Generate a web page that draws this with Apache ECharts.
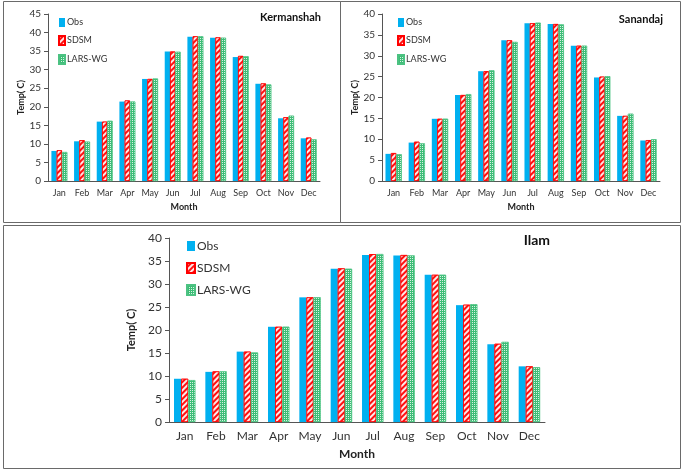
<!DOCTYPE html>
<html>
<head>
<meta charset="utf-8">
<script src="https://cdn.jsdelivr.net/npm/echarts@6/dist/echarts.min.js"></script>
<style>
  html, body { margin: 0; padding: 0; background: #fff; }
  #chart { width: 685px; height: 472px; }
</style>
</head>
<body>
<div id="chart"></div>
<script>
// monthly mean temperature, observed vs downscaled
const months = ['Jan', 'Feb', 'Mar', 'Apr', 'May', 'Jun', 'Jul', 'Aug', 'Sep', 'Oct', 'Nov', 'Dec']
const seriesNames = ['Obs', 'SDSM', 'LARS-WG']

const kermanshahObs = [8.1, 10.7, 16.0, 21.4, 27.5, 34.9, 38.9, 38.6, 33.4, 26.2, 16.9, 11.5]
const kermanshahSdsm = [8.3, 11.0, 16.0, 21.7, 27.5, 34.9, 39.0, 38.7, 33.7, 26.3, 17.2, 11.7]
const kermanshahLars = [7.8, 10.6, 16.2, 21.4, 27.6, 34.8, 39.0, 38.6, 33.6, 26.0, 17.6, 11.2]

const sanandajObs = [6.5, 9.2, 14.9, 20.6, 26.3, 33.7, 37.8, 37.6, 32.4, 24.8, 15.6, 9.7]
const sanandajSdsm = [6.7, 9.4, 14.9, 20.6, 26.3, 33.7, 37.8, 37.6, 32.4, 25.0, 15.6, 9.8]
const sanandajLars = [6.4, 9.0, 14.9, 20.8, 26.5, 33.3, 37.9, 37.5, 32.4, 25.1, 16.1, 10.0]

const ilamObs = [9.4, 10.9, 15.3, 20.7, 27.1, 33.3, 36.3, 36.2, 32.0, 25.4, 16.9, 12.1]
const ilamSdsm = [9.4, 11.0, 15.3, 20.7, 27.1, 33.4, 36.5, 36.3, 32.0, 25.5, 17.0, 12.1]
const ilamLars = [9.1, 11.0, 15.1, 20.7, 27.1, 33.3, 36.5, 36.2, 32.0, 25.6, 17.4, 11.9]

const font = 'Lato'
const axisColor = '#555'

let chart = echarts.init(document.getElementById('chart'))

function barStyle(i) {
    if (i === 0) return {color: '#00B0F0'}
    if (i === 1) return {
        color: '#FF1010', borderColor: '#FF0000', borderWidth: 0.8,
        decal: {symbol: 'rect', color: 'rgba(255,255,255,0.9)', dashArrayX: [1, 0], dashArrayY: [1.5, 2], rotation: -Math.PI / 4}
    }
    return {
        color: '#3dbd76', borderColor: '#4cc282', borderWidth: 0.6,
        decal: {symbol: 'rect', color: 'rgba(255,255,255,0.8)', symbolSize: 1, dashArrayX: [1, 1], dashArrayY: [1, 1]}
    }
}

function makeSeries(idx, data, gap) {
    return data.map((d, i) => ({
        name: seriesNames[i],
        type: 'bar',
        xAxisIndex: idx,
        yAxisIndex: idx,
        data: d,
        barGap: '0%',
        barCategoryGap: gap,
        itemStyle: barStyle(i),
        emphasis: {disabled: true}
    }))
}

function xAxis(idx, size, gap) {
    return {
        type: 'category', gridIndex: idx, data: months,
        name: 'Month', nameLocation: 'middle', nameGap: gap,
        nameTextStyle: {fontFamily: font, fontWeight: 'bold', fontSize: size, color: '#222'},
        axisLine: {lineStyle: {color: axisColor}},
        axisTick: {length: 4, lineStyle: {color: axisColor}},
        axisLabel: {fontFamily: font, fontSize: size, color: '#333', margin: 8}
    }
}

function yAxis(idx, max, size, gap) {
    return {
        type: 'value', gridIndex: idx, min: 0, max: max, interval: 5,
        name: 'Temp( C)', nameLocation: 'middle', nameGap: gap,
        nameTextStyle: {fontFamily: font, fontWeight: 'bold', fontSize: size, color: '#222'},
        axisLine: {show: true, lineStyle: {color: axisColor}},
        axisTick: {show: true, length: 4, lineStyle: {color: axisColor}},
        splitLine: {show: false},
        axisLabel: {fontFamily: font, fontSize: size + 1, color: '#333', margin: 7}
    }
}

function legend(left, top, gap, size, w, h) {
    return {
        data: seriesNames, orient: 'vertical', left: left, top: top,
        itemGap: gap, itemWidth: w, itemHeight: h, icon: 'rect',
        selectedMode: false,
        textStyle: {fontFamily: font, fontSize: size, color: '#333', padding: [0, 0, 0, -3]}
    }
}

function title(text, right, top, size) {
    return {
        text: text, right: right, top: top,
        textStyle: {fontFamily: font, fontWeight: 'bold', fontSize: size, color: '#111'}
    }
}

const option = {
    animation: false,
    backgroundColor: '#fff',
    title: [
        title('Kermanshah', 359, 7, 11),
        title('Sanandaj', 17, 9, 11),
        title('Ilam', 130, 228, 14)
    ],
    legend: [
        legend(53, 13, 8, 9, 6, 9),
        legend(392, 13, 8, 9, 6, 9),
        legend(181, 235, 10, 12, 8, 10)
    ],
    grid: [
        {left: 48, top: 14, width: 272, height: 167},
        {left: 382, top: 14, width: 278, height: 167},
        {left: 169, top: 238, width: 376, height: 184}
    ],
    xAxis: [xAxis(0, 9, 22), xAxis(1, 9, 22), xAxis(2, 12, 26)],
    yAxis: [yAxis(0, 45, 9, 21), yAxis(1, 40, 9, 22), yAxis(2, 40, 11, 31)],
    series: [
        ...makeSeries(0, [kermanshahObs, kermanshahSdsm, kermanshahLars], '30%'),
        ...makeSeries(1, [sanandajObs, sanandajSdsm, sanandajLars], '30%'),
        ...makeSeries(2, [ilamObs, ilamSdsm, ilamLars], '32%')
    ],
    graphic: [
        {type: 'rect', shape: {x: 3.5, y: 1.5, width: 337, height: 221}, style: {fill: 'none', stroke: '#6a6a6a', lineWidth: 1}},
        {type: 'rect', shape: {x: 340.5, y: 1.5, width: 340, height: 221}, style: {fill: 'none', stroke: '#6a6a6a', lineWidth: 1}},
        {type: 'rect', shape: {x: 3.5, y: 225.5, width: 677, height: 243}, style: {fill: 'none', stroke: '#6a6a6a', lineWidth: 1}}
    ]
}

chart.setOption(option)
</script>
</body>
</html>
